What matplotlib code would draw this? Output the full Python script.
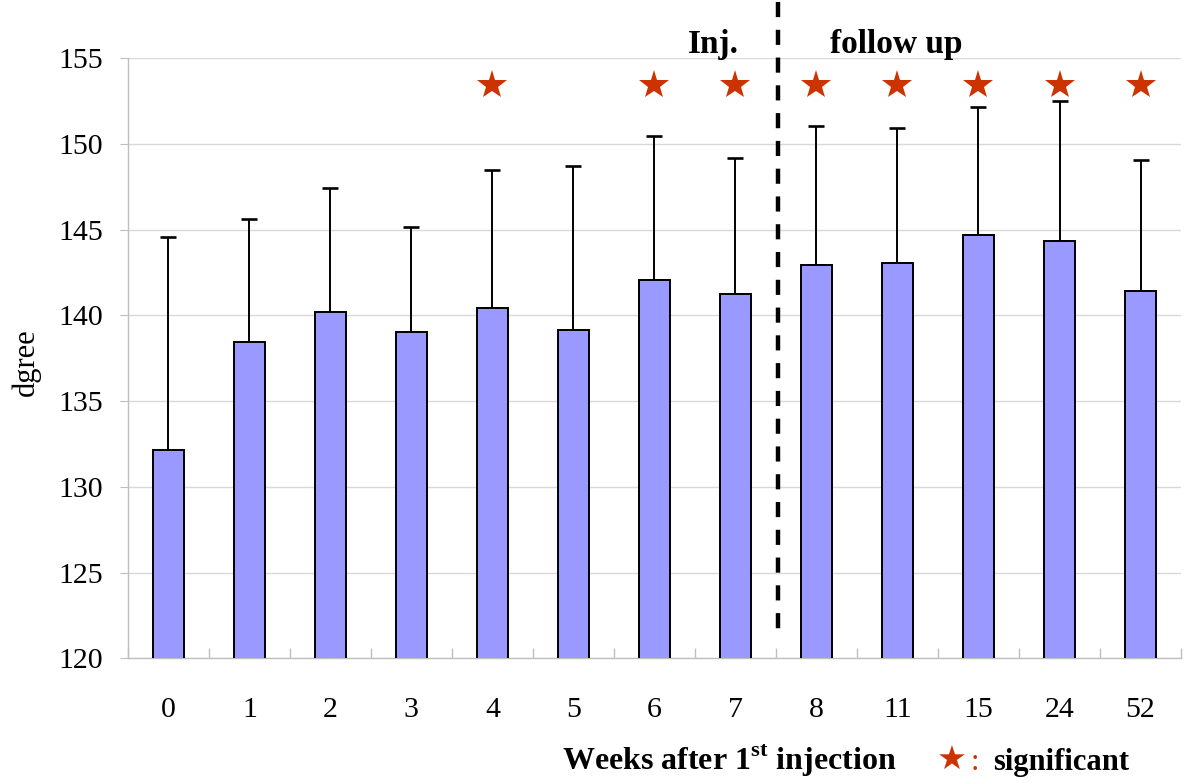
import numpy as np
import matplotlib
matplotlib.use("Agg")
import matplotlib.pyplot as plt
from matplotlib.ticker import FixedLocator

plt.rcParams['font.family'] = ['Liberation Serif', 'DejaVu Sans']
plt.rcParams['mathtext.fontset'] = 'custom'
plt.rcParams['mathtext.rm'] = 'Liberation Serif'
plt.rcParams['mathtext.bf'] = 'Liberation Serif:bold'

# data
weeks = ['0', '1', '2', '3', '4', '5', '6', '7', '8', '11', '15', '24', '52']
means = [132.15, 138.43, 140.20, 139.01, 140.45, 139.13, 142.09, 141.27,
         142.92, 143.06, 144.71, 144.34, 141.41]
upper = [144.57, 145.62, 147.42, 145.16, 148.47, 148.72, 150.47, 149.18,
         151.07, 150.95, 152.14, 152.49, 149.08]
significant = [False, False, False, False, True, False, True, True,
               True, True, True, True, True]
star_level = 153.45
divider_x = 7.53
divider_span = (121.46, 158.3)

bar_color = '#9999FF'
star_color = '#CC3300'
grid_color = '#D9D9D9'

x = np.arange(len(weeks))
errs = np.array(upper) - np.array(means)

fig = plt.figure(figsize=(12, 7.83), dpi=100)
ax = fig.add_axes([0.1065, 0.1592, 0.8777, 0.7663])

ax.bar(x, means, width=0.39, color=bar_color, edgecolor='black',
       linewidth=1.4, zorder=3)
ax.errorbar(x, means, yerr=[np.zeros(len(x)), errs], fmt='none',
            ecolor='black', elinewidth=1.4, capsize=5.6, capthick=1.9,
            zorder=2)

sig_x = x[np.array(significant)]
ax.plot(sig_x, [star_level] * len(sig_x), linestyle='none', marker='*',
        markersize=22, color=star_color, markeredgewidth=0, zorder=4)

ax.plot([divider_x, divider_x], [divider_span[1], divider_span[0]],
        color='black', linewidth=3.2, dashes=(3.4, 2.85), clip_on=False,
        zorder=5)

ax.set_xlim(-0.5, len(weeks) - 0.5)
ax.set_ylim(120, 155)
ax.set_yticks(np.arange(120, 156, 5))
ax.grid(axis='y', color=grid_color, linewidth=1, zorder=0)
ax.set_axisbelow(True)

ax.set_xticks(x)
ax.set_xticklabels(weeks)
ax.xaxis.set_minor_locator(FixedLocator(np.arange(-0.5, len(weeks), 1.0)))
ax.tick_params(axis='x', which='major', length=0, pad=28, labelsize=21.5)
ax.tick_params(axis='x', which='minor', direction='in', length=7,
               color='#BFBFBF', width=1)
ax.tick_params(axis='y', length=5.5, color='#BFBFBF', pad=12, labelsize=21.5)

for s in ['top', 'right']:
    ax.spines[s].set_visible(False)
for s in ['left', 'bottom']:
    ax.spines[s].set_color('#BFBFBF')
    ax.spines[s].set_linewidth(1)

fig.text(26 / 1200, 1 - 362 / 783, 'dgree', rotation=90, fontsize=22,
         ha='center', va='center')

fig.text(896 / 1200, 1 - 770 / 783, r'Weeks after 1$^{\mathbf{st}}$ injection',
         fontsize=23, fontweight='bold', ha='right', va='baseline')
fig.text(951.7 / 1200, 1 - 760 / 783, '\u2605', family=['DejaVu Sans'],
         fontsize=24, color=star_color, ha='center', va='center')
fig.text(975 / 1200, 1 - 770 / 783, ':', fontsize=22, color=star_color,
         ha='center', va='baseline')
fig.text(993 / 1200, 1 - 770 / 783, 'significant', fontsize=22,
         fontweight='bold', ha='left', va='baseline')

fig.text(713 / 1200, 1 - 53 / 783, 'Inj.', fontsize=24, fontweight='bold',
         ha='center', va='baseline')
fig.text(896 / 1200, 1 - 53 / 783, 'follow up', fontsize=24,
         fontweight='bold', ha='center', va='baseline')

fig.savefig('out.png', dpi=100)
